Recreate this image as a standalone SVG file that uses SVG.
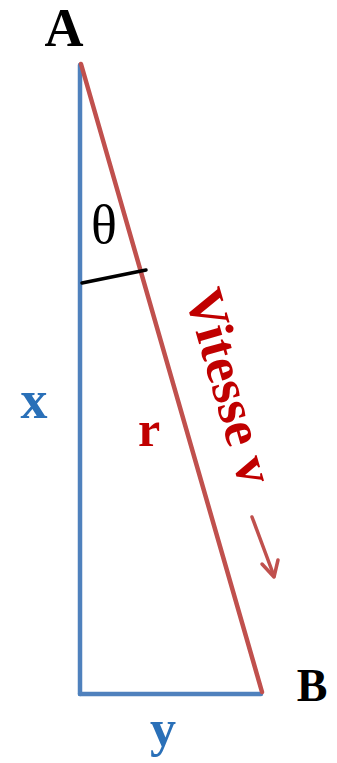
<svg xmlns="http://www.w3.org/2000/svg" width="337" height="763" viewBox="0 0 337 763">
<style>
.lbl{font-family:"Liberation Serif","Times New Roman",serif;font-weight:bold}
.blk{fill:#000}
.blu{fill:#2a70b8}
.red{fill:#c00000}
.edge{fill:none;stroke-width:4.5;stroke-linecap:round}
</style>
<rect width="337" height="763" fill="#fff"/>
<g id="connectors">
<line class="edge" x1="80" y1="65" x2="80" y2="694" stroke="#4f81bd"/>
<line class="edge" x1="80" y1="694" x2="261" y2="694" stroke="#4f81bd"/>
<line class="edge" x1="81" y1="64" x2="262" y2="692" stroke="#c0504d"/>
<line x1="82" y1="283" x2="146" y2="270" stroke="#000" stroke-width="3.5" stroke-linecap="round"/>
<g id="arrow" fill="none" stroke="#c0504d" stroke-width="3.5" stroke-linecap="round" stroke-linejoin="round">
<line x1="252" y1="517" x2="274" y2="576"/>
<polyline points="262,564 274,577 278,560"/>
</g>
</g>
<g id="node-A"><text class="lbl blk" x="64" y="46" font-size="54" text-anchor="middle">A</text></g>
<g id="node-B"><text class="lbl blk" x="312" y="701" font-size="46" text-anchor="middle">B</text></g>
<g id="label-theta"><text x="104" y="243" font-size="54" text-anchor="middle" font-family="Liberation Serif, serif" fill="#000">θ</text></g>
<g id="label-x"><text class="lbl blu" x="34" y="418" font-size="54" text-anchor="middle">x</text></g>
<g id="label-y"><text class="lbl blu" x="163" y="746" font-size="52" text-anchor="middle">y</text></g>
<g id="label-r"><text class="lbl red" x="149" y="446" font-size="50" text-anchor="middle">r</text></g>
<g id="label-vitesse"><text class="lbl red" font-size="54" transform="translate(185,295) rotate(74)">Vitesse v</text></g>
</svg>
